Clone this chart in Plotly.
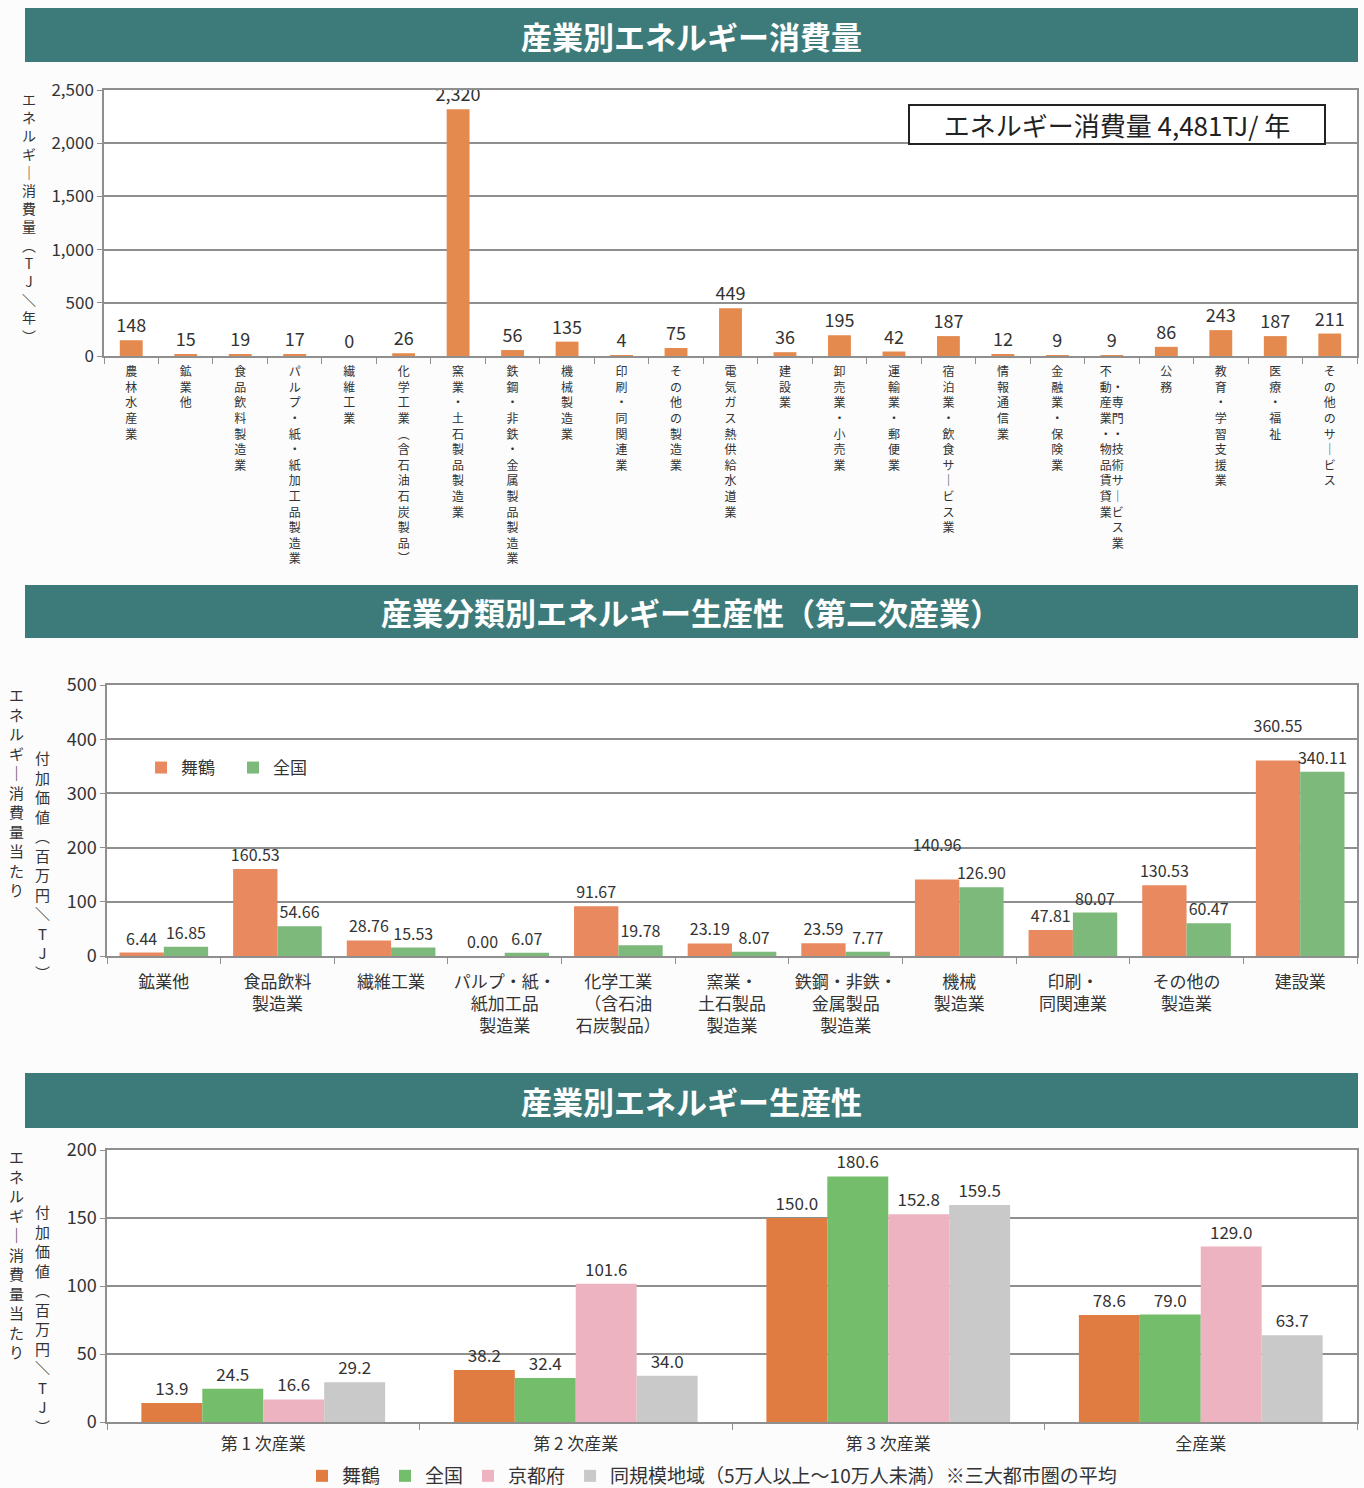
import plotly.graph_objects as go

W, H = 1364, 1488
def px(x): return x / W
def py(y): return 1 - y / H

FONT = "Noto Sans CJK JP"
TXT = "#333333"
GRID = "#8f8f8f"

# ---------------- Chart 1 data ----------------
ind_names = ["農林水産業", "鉱業他", "食品飲料製造業", "パルプ・紙・紙加工品製造業", "繊維工業",
             "化学工業（含石油石炭製品）", "窯業・土石製品製造業", "鉄鋼・非鉄・金属製品製造業",
             "機械製造業", "印刷・同関連業", "その他の製造業", "電気ガス熱供給水道業", "建設業",
             "卸売業・小売業", "運輸業・郵便業", "宿泊業・飲食サービス業", "情報通信業",
             "金融業・保険業", "不動産業・物品賃貸業・専門・技術サービス業", "公務",
             "教育・学習支援業", "医療・福祉", "その他のサービス"]
energy = [148, 15, 19, 17, 0, 26, 2320, 56, 135, 4, 75, 449, 36, 195, 42, 187, 12, 9, 9, 86, 243, 187, 211]
total_text = "エネルギー消費量 4,481TJ/ 年"

# ---------------- Chart 2 data ----------------
cat2 = ["鉱業他", "食品飲料<br>製造業", "繊維工業", "パルプ・紙・<br>紙加工品<br>製造業",
        "化学工業<br>（含石油<br>石炭製品）", "窯業・<br>土石製品<br>製造業",
        "鉄鋼・非鉄・<br>金属製品<br>製造業", "機械<br>製造業", "印刷・<br>同関連業",
        "その他の<br>製造業", "建設業"]
maizuru2 = [6.44, 160.53, 28.76, 0.00, 91.67, 23.19, 23.59, 140.96, 47.81, 130.53, 360.55]
national2 = [16.85, 54.66, 15.53, 6.07, 19.78, 8.07, 7.77, 126.90, 80.07, 60.47, 340.11]

# ---------------- Chart 3 data ----------------
cat3 = ["第 1 次産業", "第 2 次産業", "第 3 次産業", "全産業"]
series3_names = ["舞鶴", "全国", "京都府", "同規模地域（5万人以上～10万人未満）※三大都市圏の平均"]
maizuru3 = [13.9, 38.2, 150.0, 78.6]
national3 = [24.5, 32.4, 180.6, 79.0]
kyoto3 = [16.6, 101.6, 152.8, 129.0]
similar3 = [29.2, 34.0, 159.5, 63.7]

titles = ["産業別エネルギー消費量", "産業分類別エネルギー生産性（第二次産業）", "産業別エネルギー生産性"]

VMAP = {"（": "︵", "）": "︶", "ー": "｜", "/": "＼"}
def vert(s):
    return "<br>".join(VMAP.get(c, c) for c in s)

def vert_two(left, right, offset=1):
    n = max(len(left), len(right) + offset)
    rows = []
    for i in range(n):
        l = left[i] if i < len(left) else "　"
        j = i - offset
        r = right[j] if 0 <= j < len(right) else "　"
        rows.append(VMAP.get(l, l) + VMAP.get(r, r))
    return "<br>".join(rows)

tick1 = []
for n in ind_names:
    if n.startswith("不動産業"):
        tick1.append(vert_two("不動産業・物品賃貸業", "・専門・技術サービス業"))
    else:
        tick1.append(vert(n))

fig = go.Figure()

# Chart 1
fig.add_trace(go.Bar(
    x=ind_names, y=energy, xaxis="x", yaxis="y", width=0.42,
    marker=dict(color="#E48A4E", line=dict(width=0)),
    texttemplate="%{y:,}", textposition="outside", constraintext="none", cliponaxis=False,
    textfont=dict(size=18, color=TXT, family=FONT), showlegend=False))

# Chart 2 -- when two tall neighbouring labels would collide, lift the left one by a line
tmpl_m2 = []
for m, n in zip(maizuru2, national2):
    if m >= 100 and n >= 100 and 0 < m - n < 40:
        tmpl_m2.append("%{y:.2f}<br>\u00a0")
    else:
        tmpl_m2.append("%{y:.2f}")
c2 = ["#E8895F", "#7DB97A"]
for name, vals, col, tmpl in [("舞鶴", maizuru2, c2[0], tmpl_m2), ("全国", national2, c2[1], "%{y:.2f}")]:
    fig.add_trace(go.Bar(
        x=cat2, y=vals, name=name, xaxis="x2", yaxis="y2", legend="legend",
        marker=dict(color=col, line=dict(width=0)),
        texttemplate=tmpl, textposition="outside", constraintext="none", cliponaxis=False,
        textfont=dict(size=16, color=TXT, family=FONT)))

# Chart 3
c3 = ["#E07B42", "#74BD6A", "#EEB3C1", "#C9C9C9"]
for name, vals, col in zip(series3_names, [maizuru3, national3, kyoto3, similar3], c3):
    fig.add_trace(go.Bar(
        x=cat3, y=vals, name=name, xaxis="x3", yaxis="y3", legend="legend2",
        marker=dict(color=col, line=dict(width=0)),
        texttemplate="%{y:.1f}", textposition="outside", constraintext="none", cliponaxis=False,
        textfont=dict(size=17, color=TXT, family=FONT)))

axis_common = dict(showline=True, linecolor=GRID, linewidth=1.5, mirror=True, automargin=False)

fig.update_layout(
    width=W, height=H, margin=dict(l=0, r=0, t=0, b=0, autoexpand=False),
    paper_bgcolor="#fcfcfc", plot_bgcolor="#ffffff",
    font=dict(family=FONT, color=TXT),
    barmode="group", bargap=0.22, bargroupgap=0,
    xaxis=dict(domain=[px(104), px(1357)], anchor="y", type="category",
               tickvals=ind_names, ticktext=tick1, tickson="boundaries",
               ticks="outside", ticklen=6, tickcolor=GRID, showgrid=False, ticklabelstandoff=4,
               tickfont=dict(size=12, color=TXT), tickangle=0, **axis_common),
    yaxis=dict(domain=[py(356), py(90)], anchor="x", range=[0, 2500], dtick=500,
               tickformat=",", ticks="outside", ticklen=5, tickcolor=GRID,
               gridcolor=GRID, gridwidth=1.5, zeroline=False,
               tickfont=dict(size=17, color=TXT), **axis_common),
    xaxis2=dict(domain=[px(107), px(1357)], anchor="y2", type="category",
                tickson="boundaries", ticks="outside", ticklen=6, tickcolor=GRID, ticklabelstandoff=10,
                showgrid=False, tickfont=dict(size=17, color=TXT), tickangle=0, **axis_common),
    yaxis2=dict(domain=[py(956), py(685)], anchor="x2", range=[0, 500], dtick=100,
                ticks="outside", ticklen=5, tickcolor=GRID,
                gridcolor=GRID, gridwidth=1.5, zeroline=False,
                tickfont=dict(size=18, color=TXT), **axis_common),
    xaxis3=dict(domain=[px(107), px(1357)], anchor="y3", type="category",
                tickson="boundaries", ticks="outside", ticklen=6, tickcolor=GRID, ticklabelstandoff=6,
                showgrid=False, tickfont=dict(size=17, color=TXT), tickangle=0, **axis_common),
    yaxis3=dict(domain=[py(1422), py(1150)], anchor="x3", range=[0, 200], dtick=50,
                ticks="outside", ticklen=5, tickcolor=GRID,
                gridcolor=GRID, gridwidth=1.5, zeroline=False,
                tickfont=dict(size=18, color=TXT), **axis_common),
    legend=dict(x=px(141), y=py(768), xanchor="left", yanchor="middle", orientation="h",
                bgcolor="rgba(0,0,0,0)", font=dict(size=17, color=TXT),
                entrywidth=47, entrywidthmode="pixels", itemwidth=30, traceorder="normal"),
    legend2=dict(x=px(712), y=py(1476), xanchor="center", yanchor="middle", orientation="h",
                 bgcolor="rgba(0,0,0,0)", font=dict(size=19, color=TXT),
                 itemwidth=30, traceorder="normal"),
)

# Banners
shapes = []
annotations = []
for (y0, y1), t in zip([(8, 62), (585, 638), (1073, 1128)], titles):
    shapes.append(dict(type="rect", xref="paper", yref="paper", x0=px(25), x1=px(1358),
                       y0=py(y1), y1=py(y0), fillcolor="#3D7B7B", line=dict(width=0), layer="below"))
    annotations.append(dict(text="<b>" + t + "</b>", xref="paper", yref="paper",
                            x=px(691), y=py((y0 + y1) / 2), showarrow=False,
                            font=dict(size=31, color="white", family=FONT),
                            xanchor="center", yanchor="middle"))

# Total box
annotations.append(dict(text=total_text, xref="paper", yref="paper", x=px(1117), y=py(124),
                        showarrow=False, xanchor="center", yanchor="middle",
                        font=dict(size=26, color="#222222", family=FONT),
                        bordercolor="#222222", borderwidth=2, borderpad=2,
                        bgcolor="white", width=410, height=33))

# Y axis titles
annotations.append(dict(text=vert("エネルギー消費量（TJ/年）"), xref="paper", yref="paper",
                        x=px(29), y=py(218), showarrow=False, xanchor="center", yanchor="middle",
                        font=dict(size=14, color=TXT, family=FONT)))
for yl, yr in [(792, 865), (1254, 1319)]:
    annotations.append(dict(text=vert("エネルギー消費量当たり"), xref="paper", yref="paper",
                            x=px(16), y=py(yl), showarrow=False, xanchor="center", yanchor="middle",
                            font=dict(size=15, color=TXT, family=FONT)))
    annotations.append(dict(text=vert("付加価値（百万円/TJ）"), xref="paper", yref="paper",
                            x=px(42), y=py(yr), showarrow=False, xanchor="center", yanchor="middle",
                            font=dict(size=15, color=TXT, family=FONT)))

fig.update_layout(shapes=shapes, annotations=annotations)

post = ("var de=document.documentElement,b=document.body;"
        "de.style.margin='0';de.style.padding='0';de.style.overflow='hidden';"
        "b.style.margin='0';b.style.padding='0';b.style.overflow='hidden';"
        "var gd=document.getElementById('{plot_id}');gd.style.position='fixed';"
        "gd.style.left='0px';gd.style.top='0px';gd.style.margin='0';"
        "window.scrollTo(0,0);")
fig.write_html("out.html", post_script=post, config={"displayModeBar": False})
